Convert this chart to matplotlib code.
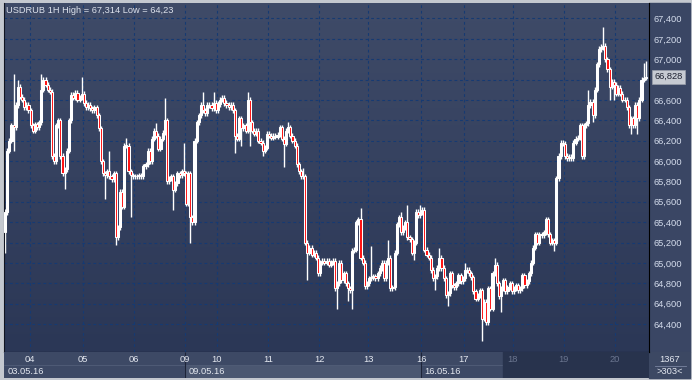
import matplotlib
matplotlib.use("Agg")
import matplotlib.pyplot as plt
import numpy as np
from matplotlib.colors import LinearSegmentedColormap
from matplotlib.patches import Rectangle

# hourly closes, USDRUB 03.05.16 - 20.05.16
FIRST_OPEN = 65.30
CLOSES = [
    65.50, 66.10, 66.20, 66.35, 66.33, 66.55, 66.73, 66.63, 66.60, 66.53,
    66.55, 66.50, 66.35, 66.30, 66.36, 66.33, 66.38, 66.70, 66.80, 66.75,
    66.70, 66.68, 66.05, 66.00, 66.35, 66.40, 66.05, 65.88, 65.92, 66.10,
    66.40, 66.65, 66.62, 66.67, 66.60, 66.62, 66.66, 66.57, 66.53, 66.55,
    66.52, 66.50, 66.53, 66.45, 66.32, 66.00, 65.88, 65.86, 65.90, 65.85,
    65.82, 65.88, 65.25, 65.35, 65.70, 65.55, 66.15, 66.15, 65.90, 65.86,
    65.85, 65.85, 65.85, 65.86, 65.85, 65.95, 65.97, 66.10, 66.00, 66.22,
    66.30, 66.25, 66.12, 66.22, 66.28, 66.40, 65.80, 65.83, 65.85, 65.72,
    65.78, 65.88, 65.86, 65.90, 65.88, 65.58, 65.88, 65.45, 65.40, 66.20,
    66.38, 66.45, 66.55, 66.50, 66.47, 66.55, 66.55, 66.52, 66.57, 66.50,
    66.56, 66.60, 66.62, 66.57, 66.55, 66.53, 66.55, 66.50, 66.25, 66.22,
    66.42, 66.32, 66.35, 66.30, 66.60, 66.38, 66.30, 66.27, 66.30, 66.20,
    66.18, 66.10, 66.13, 66.27, 66.25, 66.23, 66.25, 66.24, 66.26, 66.33,
    66.22, 66.17, 66.30, 66.33, 66.25, 66.20, 66.15, 65.97, 65.90, 65.85,
    65.85, 65.20, 65.10, 65.15, 65.08, 65.10, 65.05, 64.90, 65.00, 65.02,
    65.00, 65.02, 64.98, 65.00, 65.02, 64.75, 64.80, 65.00, 64.83, 64.90,
    64.80, 64.75, 64.73, 65.12, 65.13, 65.40, 65.43, 65.05, 65.00, 64.77,
    64.80, 64.85, 64.86, 64.87, 64.85, 64.90, 64.95, 65.00, 64.85, 65.00,
    65.05, 64.75, 64.76, 65.10, 65.38, 65.45, 65.30, 65.35, 65.40, 65.25,
    65.23, 65.10, 65.20, 65.50, 65.47, 65.50, 65.52, 65.13, 65.08, 65.05,
    64.93, 64.85, 64.87, 64.95, 65.05, 64.95, 64.85, 64.68, 64.70, 64.90,
    64.78, 64.76, 64.80, 64.88, 64.82, 64.85, 64.93, 64.93, 64.90, 64.86,
    64.72, 64.65, 64.68, 64.73, 64.45, 64.62, 64.42, 64.75, 64.55, 64.90,
    64.98, 64.80, 64.67, 64.75, 64.83, 64.72, 64.76, 64.80, 64.72, 64.75,
    64.78, 64.73, 64.75, 64.88, 64.78, 64.82, 64.90, 65.00, 65.15, 65.28,
    65.20, 65.28, 65.27, 65.30, 65.43, 65.28, 65.20, 65.22, 65.20, 65.83,
    66.05, 66.18, 66.17, 66.05, 66.03, 66.04, 66.03, 66.18, 66.22, 66.23,
    66.35, 66.05, 66.35, 66.37, 66.55, 66.58, 66.45, 66.70, 66.95, 67.10,
    67.12, 67.13, 67.00, 66.90, 66.73, 66.78, 66.75, 66.66, 66.72, 66.66,
    66.60, 66.60, 66.53, 66.35, 66.42, 66.35, 66.55, 66.42, 66.60, 66.80,
    66.82, 66.828,
]

# candles whose wicks stick out noticeably
HIGH_WICKS = {
    4: 66.85, 6: 66.80, 17: 66.85, 36: 66.83, 49: 66.10, 57: 66.23,
    71: 66.37, 75: 66.62, 84: 66.18, 93: 66.68, 98: 66.68, 114: 66.68,
    133: 66.38, 140: 65.93, 167: 65.54, 172: 65.17, 180: 65.22, 186: 65.50,
    189: 65.57, 195: 65.57, 204: 65.15, 216: 65.00, 230: 65.05, 274: 66.70,
    281: 67.314, 300: 66.96, 301: 66.98,
}
LOW_WICKS = {
    0: 65.10, 4: 66.10, 23: 65.97, 28: 65.73, 47: 65.63, 52: 65.18,
    59: 65.45, 79: 65.52, 87: 65.20, 108: 66.08, 111: 66.15, 115: 66.15,
    121: 66.05, 131: 65.94, 142: 64.83, 156: 64.55, 161: 64.63, 163: 64.55,
    192: 65.03, 202: 64.73, 208: 64.58, 224: 64.23, 233: 64.52, 258: 65.12,
    276: 66.38, 284: 66.60, 286: 66.60, 294: 66.27, 297: 66.27,
}
WICK = 0.025

DAY_LABELS = ["04", "05", "06", "09", "10", "11", "12", "13", "16", "17", "18", "19", "20"]
DAY_START = [12, 37, 61, 85, 100, 124, 148, 171, 196, 216, 239, 263, 287]
WEEK_LABELS = ["03.05.16", "09.05.16", "16.05.16"]
WEEK_START = [0, 85, 196]
Y_TICKS = [64.4, 64.6, 64.8, 65.0, 65.2, 65.4, 65.6, 65.8, 66.0, 66.2,
           66.4, 66.6, 66.8, 67.0, 67.2, 67.4]
TOTAL_BARS = 1367

closes = np.array(CLOSES)
opens = np.r_[FIRST_OPEN, closes[:-1]]
idx = np.arange(len(closes))
highs = np.maximum(opens, closes) + WICK
lows = np.minimum(opens, closes) - WICK
for i, v in HIGH_WICKS.items():
    highs[i] = v
for i, v in LOW_WICKS.items():
    lows[i] = v

W, H = 692, 380
FONT = "Liberation Sans"
plt.rcParams["font.family"] = [FONT, "DejaVu Sans"]

fig = plt.figure(figsize=(W / 100, H / 100), dpi=100)
fig.patch.set_facecolor("#c4c8cf")


def fbox(x0, y0, x1, y1):
    # pixel box (top-left origin) -> figure fraction rect
    return [x0 / W, 1 - y1 / H, (x1 - x0) / W, (y1 - y0) / H]


# right price panel and bottom-right counter box (behind the axes)
fig.patches.append(Rectangle((649 / W, 1 - 352 / H), 41 / W, 349 / H,
                             transform=fig.transFigure, color="#3a4664", zorder=-5))
fig.patches.append(Rectangle((649 / W, 1 - 378 / H), 41 / W, 26 / H,
                             transform=fig.transFigure, color="#3c4863", zorder=-5))
fig.text(670 / W, 1 - 360 / H, str(TOTAL_BARS), color="#e4e8f0", fontsize=6.7,
         ha="center", va="center")
fig.text(670 / W, 1 - 372 / H, f">{len(closes) + 1}<", color="#e4e8f0", fontsize=6.7,
         ha="center", va="center")
fig.lines.append(plt.Line2D([655 / W, 686 / W], [1 - 366 / H] * 2,
                            transform=fig.transFigure, color="#7a84a0", lw=0.6))

# ── main candle panel ────────────────────────────────────────────────────────
ax = fig.add_axes(fbox(4, 3, 649, 352))
bg = LinearSegmentedColormap.from_list("bg", ["#3f4b68", "#2b3756"])
ax.imshow(np.linspace(0, 1, 256).reshape(-1, 1), cmap=bg, extent=[0, 1, 0, 1],
          transform=ax.transAxes, aspect="auto", zorder=0)

ax.set_xlim(-0.5, len(closes) + 0.5)
ax.set_ylim(64.125, 67.552)

for y in Y_TICKS:
    ax.axhline(y, color="#163a72", lw=0.8, ls=(0, (2.5, 2.5)), zorder=1)
for d in DAY_START:
    ax.axvline(d - 0.5, color="#163a72", lw=0.8, ls=(0, (2.5, 2.5)), zorder=1)

ax.vlines(idx, lows, highs, color="white", lw=1.0, zorder=2)
down = closes < opens
body_h = np.maximum(np.abs(closes - opens), 0.004)
ax.bar(idx, body_h, bottom=np.minimum(opens, closes), width=1.0,
       color=np.where(down, "#ff1010", "#ffffff"), edgecolor="white",
       linewidth=0.75, zorder=3)

ax.yaxis.tick_right()
ax.set_yticks(Y_TICKS)
ax.set_yticklabels([f"{v:.3f}".replace(".", ",") for v in Y_TICKS])
ax.tick_params(axis="y", length=0, pad=3, labelsize=6.7, labelcolor="#d4dcec")
ax.set_xticks([])
for s in ax.spines.values():
    s.set_visible(False)
ax.spines["right"].set_visible(True)
ax.spines["right"].set_color("black")
ax.spines["bottom"].set_visible(True)
ax.spines["bottom"].set_color("black")
ax.spines["left"].set_visible(True)
ax.spines["left"].set_color("#111522")

ax.text(0.003, 0.992, f"USDRUB 1H High = {max(highs):.3f} Low = {min(lows):.2f}".replace(".", ","),
        transform=ax.transAxes, ha="left", va="top", color="#dde2ec", fontsize=6.7)

last = closes[-1]
ax.annotate(f"{last:.3f}".replace(".", ","), xy=(1, last), xycoords=("axes fraction", "data"),
            xytext=(4, 0), textcoords="offset points", ha="left", va="center",
            fontsize=6.7, color="#1c2030", zorder=10,
            bbox=dict(boxstyle="square,pad=0.25", fc="#c6cad2", ec="#9aa0ac", lw=0.5))

# ── time band ────────────────────────────────────────────────────────────────
bx = fig.add_axes(fbox(4, 352, 649, 378))
bx.set_xlim(ax.get_xlim())
bx.set_ylim(0, 2)
bx.axis("off")
bx.add_patch(Rectangle((0, 0), 1, 2, transform=bx.transAxes, color="#3d4965", zorder=0))
bx.add_patch(Rectangle((WEEK_START[1] - 0.5, 0), WEEK_START[2] - WEEK_START[1], 0.95,
                       color="#4b5771", zorder=1))
bx.axhline(0.97, xmin=0, xmax=1, color="#56627c", lw=0.5, zorder=1)
bx.add_patch(Rectangle((0.7736, 0), 1 - 0.7736, 2, transform=bx.transAxes,
                       color="#28334d", zorder=2))
for w in WEEK_START[1:]:
    bx.vlines(w - 0.5, 0, 2, color="#1d2438", lw=0.8, zorder=3)

for lab, d in zip(DAY_LABELS, DAY_START):
    dim = d > 234
    bx.text(d - 0.5, 1.45, lab, ha="center", va="center", fontsize=6.7,
            color="#6b7690" if dim else "#e4e8f0", zorder=4)
for lab, w in zip(WEEK_LABELS, WEEK_START):
    bx.text(w + 1, 0.48, lab, ha="left", va="center", fontsize=6.7,
            color="#e4e8f0", zorder=4)

fig.savefig("out.png", dpi=100, facecolor=fig.get_facecolor())
